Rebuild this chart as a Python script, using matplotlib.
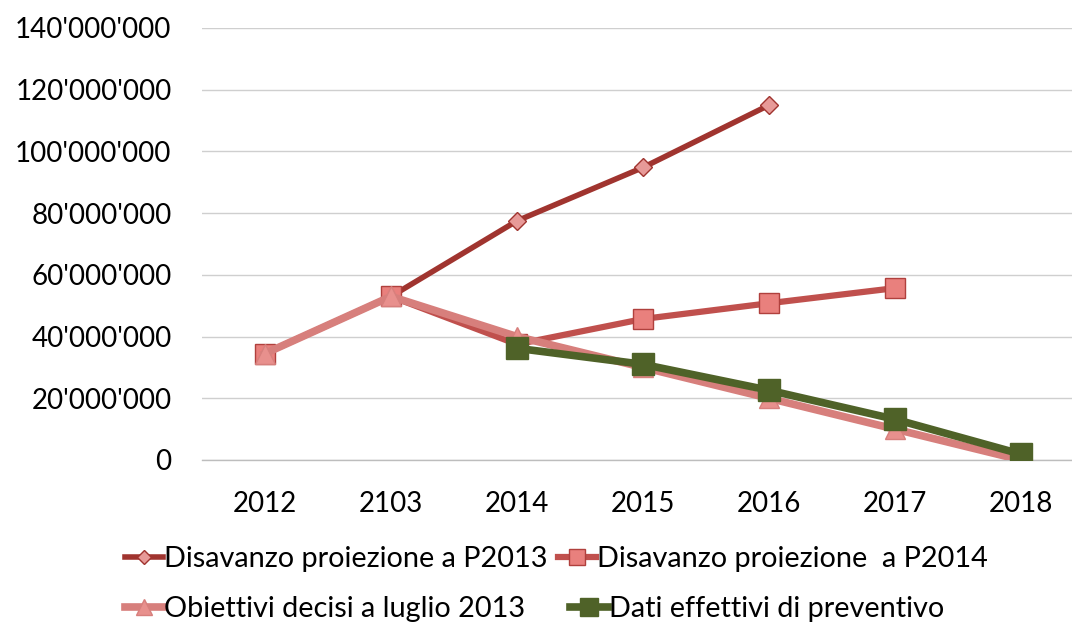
import matplotlib
matplotlib.use("Agg")
import matplotlib.pyplot as plt
import numpy as np
from matplotlib.ticker import FuncFormatter

categories = ["2012", "2103", "2014", "2015", "2016", "2017", "2018"]
p2013 = [34.5e6, 53.0e6, 77.5e6, 94.8e6, 115.0e6, None, None]
p2014 = [34.5e6, 53.0e6, 37.5e6, 45.7e6, 50.8e6, 55.7e6, None]
obiettivi = [34.5e6, 53.0e6, 40.0e6, 30.0e6, 20.0e6, 10.0e6, 0.0]
dati = [None, None, 36.2e6, 31.0e6, 22.6e6, 13.2e6, 1.9e6]
labels = ["Disavanzo proiezione a P2013", "Disavanzo proiezione  a P2014",
          "Obiettivi decisi a luglio 2013", "Dati effettivi di preventivo"]

plt.rcParams['font.family'] = ['Lato', 'DejaVu Sans']

fig = plt.figure(figsize=(10.72, 6.23), dpi=100)
ax = fig.add_axes([202/1072, 1-460/623, (1084-202)/1072, (460-28)/623])

x = np.arange(len(categories))
def arr(v):
    return np.array([np.nan if a is None else a for a in v], dtype=float)

l1, = ax.plot(x, arr(p2013), color="#A0342F", lw=4, marker="D", ms=9,
              mfc="#E79A98", mec="#A0342F", mew=1, zorder=3)
l2, = ax.plot(x, arr(p2014), color="#C0504D", lw=4.5, marker="s", ms=15,
              mfc="#E9807D", mec="#B0403D", mew=1, zorder=4)
l3, = ax.plot(x, arr(obiettivi), color="#D77F7C", lw=5.5, marker="^", ms=14,
              mfc="#E8908D", mec="#D77F7C", mew=1, zorder=5)
l4, = ax.plot(x, arr(dati), color="#4F6228", lw=5.5, marker="s", ms=16,
              mfc="#4F6228", mec="#4F6228", mew=1, zorder=6)

ax.set_xlim(-0.5, 6.5)
ax.set_ylim(0, 140e6)
ax.set_yticks(np.arange(0, 140e6 + 1, 20e6))
ax.yaxis.set_major_formatter(FuncFormatter(
    lambda v, p: "0" if v == 0 else f"{int(v):,}".replace(",", "'")))
ax.set_xticks(x)
ax.set_xticklabels(categories)
ax.grid(axis="y", color="#CFCFCF", lw=1.0)
ax.set_axisbelow(True)
for s in ["top", "right", "left"]:
    ax.spines[s].set_visible(False)
ax.spines["bottom"].set_color("#BDBDBD")
ax.spines["bottom"].set_linewidth(1.0)
ax.tick_params(axis="both", length=0, labelsize=20, colors="#000000")
ax.tick_params(axis="y", pad=22)
ax.tick_params(axis="x", pad=22)

leg_kw = dict(frameon=False, fontsize=20.8, handlelength=1.3, handletextpad=0.05,
              borderaxespad=0, borderpad=0, loc="center left", markerscale=0.8)
positions = [(125, 559), (558, 559), (125, 609), (570, 609)]
for h, lab, (px, py) in zip([l1, l2, l3, l4], labels, positions):
    fig.legend([h], [lab], bbox_to_anchor=(px/1072, 1-py/623), **leg_kw)

fig.savefig("out.png", dpi=100)
